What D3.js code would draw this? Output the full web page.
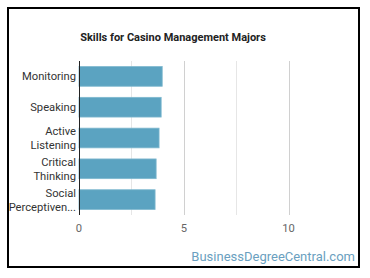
<!DOCTYPE html>
<html>
<head>
<meta charset="utf-8">
<script src="https://cdn.jsdelivr.net/npm/d3@7"></script>
<style>
  body { margin: 0; background: #fff; }
  #chart { width: 370px; height: 278px; }
</style>
</head>
<body>
<div id="chart"></div>
<script>
const categories = ['Monitoring', 'Speaking', 'Active Listening', 'Critical Thinking', 'Social Perceptiveness'];
const labelLines = [['Monitoring'], ['Speaking'], ['Active', 'Listening'], ['Critical', 'Thinking'], ['Social', 'Perceptiven...']];
const values = [3.97, 3.92, 3.82, 3.68, 3.63];
const tickValues = [0, 5, 10];
const gridValues = [2.5, 5, 7.5, 10];

const W = 370, H = 278;
const margin = { top: 61, right: 29, bottom: 63, left: 79 };

const svg = d3.select('#chart')
  .append('svg')
  .attr('width', W)
  .attr('height', H)
  .style('font-family', 'Roboto, sans-serif');

// frame
svg.append('rect')
  .attr('x', 8).attr('y', 8)
  .attr('width', 351).attr('height', 259)
  .attr('fill', '#fff')
  .attr('stroke', '#000')
  .attr('stroke-width', 2);

svg.append('text')
  .attr('x', 173).attr('y', 41)
  .attr('text-anchor', 'middle')
  .attr('font-size', 11)
  .attr('font-weight', 'bold')
  .attr('fill', '#222')
  .text('Skills for Casino Management Majors');

const x = d3.scaleLinear()
  .domain([0, 12.5])
  .range([margin.left, W - margin.right]);

const y = d3.scaleBand()
  .domain(categories)
  .range([margin.top, H - margin.bottom])
  .paddingInner(0.36)
  .paddingOuter(0.18);

// grid
svg.append('g')
  .selectAll('line')
  .data(gridValues)
  .join('line')
  .attr('x1', d => Math.round(x(d)) + 0.5)
  .attr('x2', d => Math.round(x(d)) + 0.5)
  .attr('y1', margin.top)
  .attr('y2', H - margin.bottom)
  .attr('stroke', d => d % 5 === 0 ? '#d0d0d0' : '#e6e6e6')
  .attr('stroke-width', 1);

// bars
svg.append('g')
  .selectAll('rect')
  .data(values)
  .join('rect')
  .attr('x', x(0))
  .attr('y', (d, i) => y(categories[i]))
  .attr('width', d => x(d) - x(0))
  .attr('height', y.bandwidth())
  .attr('fill', '#5ba3c1')
  .attr('stroke', '#7fb8cf')
  .attr('stroke-width', 0.8);

// axis line
svg.append('line')
  .attr('x1', x(0) + 0.5).attr('x2', x(0) + 0.5)
  .attr('y1', margin.top).attr('y2', H - margin.bottom)
  .attr('stroke', '#222')
  .attr('stroke-width', 1);

// category labels
const lab = svg.append('g')
  .selectAll('text')
  .data(categories)
  .join('text')
  .attr('text-anchor', 'end')
  .attr('font-size', 11.2)
  .attr('fill', '#333');

lab.each(function (d, i) {
  const lines = labelLines[i];
  const cy = y(d) + y.bandwidth() / 2;
  const lh = 14;
  const t = d3.select(this);
  lines.forEach((l, j) => {
    t.append('tspan')
      .attr('x', x(0) - 3)
      .attr('y', cy + (j - (lines.length - 1) / 2) * lh + 4)
      .text(l);
  });
});

// x tick labels
svg.append('g')
  .selectAll('text')
  .data(tickValues)
  .join('text')
  .attr('x', d => x(d))
  .attr('y', H - margin.bottom + 17)
  .attr('text-anchor', 'middle')
  .attr('font-size', 11.2)
  .attr('fill', '#666')
  .text(d => d);

// watermark
svg.append('text')
  .attr('x', 355).attr('y', 261)
  .attr('text-anchor', 'end')
  .attr('font-size', 13)
  .attr('fill', '#6a9fc0')
  .text('BusinessDegreeCentral.com');
</script>
</body>
</html>
